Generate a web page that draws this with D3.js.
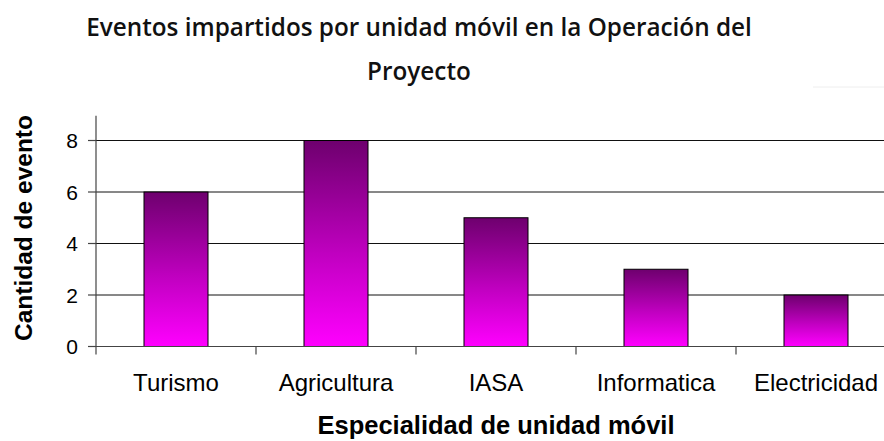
<!DOCTYPE html>
<html>
<head>
<meta charset="utf-8">
<script src="https://cdn.jsdelivr.net/npm/d3@7"></script>
<style>
  html, body { margin: 0; padding: 0; background: #fff; }
</style>
</head>
<body>
<div id="chart"></div>
<script>
// datos
var categories = ["Turismo", "Agricultura", "IASA", "Informatica", "Electricidad"];
var values = [6, 8, 5, 3, 2];
var yTicks = [0, 2, 4, 6, 8];
var titleLines = ["Eventos impartidos por unidad móvil en la Operación del", "Proyecto"];
var xTitle = "Especialidad de unidad móvil";
var yTitle = "Cantidad de eventos";

var w = 884, h = 441;
var plotLeft = 96, plotRight = 896;   // el area sigue fuera de la ventana
var plotTop = 114.75, plotBottom = 346.5;

var svg = d3.select("#chart").append("svg").attr("width", w).attr("height", h);

var defs = svg.append("defs");
var grad = defs.append("linearGradient").attr("id", "barGrad")
    .attr("x1", 0).attr("y1", 0).attr("x2", 0).attr("y2", 1);
grad.append("stop").attr("offset", "0%").attr("stop-color", "#6e006e");
grad.append("stop").attr("offset", "55%").attr("stop-color", "#c000c0");
grad.append("stop").attr("offset", "100%").attr("stop-color", "#ff00ff");

defs.append("clipPath").attr("id", "yTitleClip").append("rect")
    .attr("x", 0).attr("y", 115).attr("width", 60).attr("height", 260);

var xScale = d3.scaleBand().domain(categories).range([plotLeft, plotRight])
    .paddingInner(0.6).paddingOuter(0.3);
var xEdge = d3.scaleLinear().domain([0, categories.length]).range([plotLeft, plotRight]);
var yScale = d3.scaleLinear().domain([0, 9]).range([plotBottom, plotTop]);

// lineas de division
svg.selectAll(".grid").data(yTicks.filter(function(d){ return d > 0; })).enter().append("line")
    .attr("x1", plotLeft).attr("x2", plotRight)
    .attr("y1", yScale).attr("y2", yScale)
    .attr("stroke", "#111").attr("stroke-width", 1);

// barras
svg.selectAll(".bar").data(values).enter().append("rect")
    .attr("x", function(d, i){ return xScale(categories[i]); })
    .attr("y", function(d){ return yScale(d); })
    .attr("width", xScale.bandwidth())
    .attr("height", function(d){ return yScale(0) - yScale(d); })
    .attr("fill", "url(#barGrad)").attr("stroke", "#000").attr("stroke-width", 1);

// eje x
svg.append("line").attr("x1", plotLeft).attr("x2", plotRight)
    .attr("y1", yScale(0)).attr("y2", yScale(0))
    .attr("stroke", "#444").attr("stroke-width", 1.2);
svg.selectAll(".xtick").data(d3.range(1, categories.length)).enter().append("line")
    .attr("x1", xEdge).attr("x2", xEdge)
    .attr("y1", yScale(0)).attr("y2", yScale(0) + 8)
    .attr("stroke", "#444").attr("stroke-width", 1.2);

// eje y
svg.append("line").attr("x1", plotLeft).attr("x2", plotLeft)
    .attr("y1", plotTop + 1).attr("y2", yScale(0) + 8)
    .attr("stroke", "#444").attr("stroke-width", 1.2);
svg.selectAll(".ytick").data(yTicks).enter().append("line")
    .attr("x1", plotLeft - 8).attr("x2", plotLeft)
    .attr("y1", yScale).attr("y2", yScale)
    .attr("stroke", "#444").attr("stroke-width", 1.2);
svg.selectAll(".ylab").data(yTicks).enter().append("text")
    .attr("x", plotLeft - 18).attr("y", yScale).attr("dy", ".36em")
    .attr("text-anchor", "end")
    .attr("font-family", "Liberation Sans, Arial, sans-serif").attr("font-size", 21)
    .text(function(d){ return d; });

// etiquetas de categoria
svg.selectAll(".xlab").data(categories).enter().append("text")
    .attr("x", function(d){ return xScale(d) + xScale.bandwidth() / 2; })
    .attr("y", 391)
    .attr("text-anchor", "middle")
    .attr("font-family", "Liberation Sans, Arial, sans-serif").attr("font-size", 24)
    .text(function(d){ return d; });

// titulos de ejes
svg.append("text").attr("x", 496).attr("y", 434).attr("text-anchor", "middle")
    .attr("font-family", "Liberation Sans, Arial, sans-serif").attr("font-size", 25.5)
    .attr("font-weight", "bold").text(xTitle);

svg.append("g").attr("clip-path", "url(#yTitleClip)")
  .append("text")
    .attr("transform", "translate(32,341) rotate(-90)")
    .attr("font-family", "Liberation Sans, Arial, sans-serif").attr("font-size", 24.5)
    .attr("font-weight", "bold").text(yTitle);

// titulo
svg.selectAll(".title").data(titleLines).enter().append("text")
    .attr("x", 419).attr("y", function(d, i){ return 36 + i * 44; })
    .attr("text-anchor", "middle")
    .attr("font-family", "Open Sans, sans-serif").attr("font-size", 24.3)
    .attr("font-weight", 600).attr("fill", "#111")
    .text(function(d){ return d; });

// linea tenue arriba a la derecha
svg.append("line").attr("x1", 813).attr("x2", w).attr("y1", 87).attr("y2", 87)
    .attr("stroke", "#eeeeee").attr("stroke-width", 1);
</script>
</body>
</html>
